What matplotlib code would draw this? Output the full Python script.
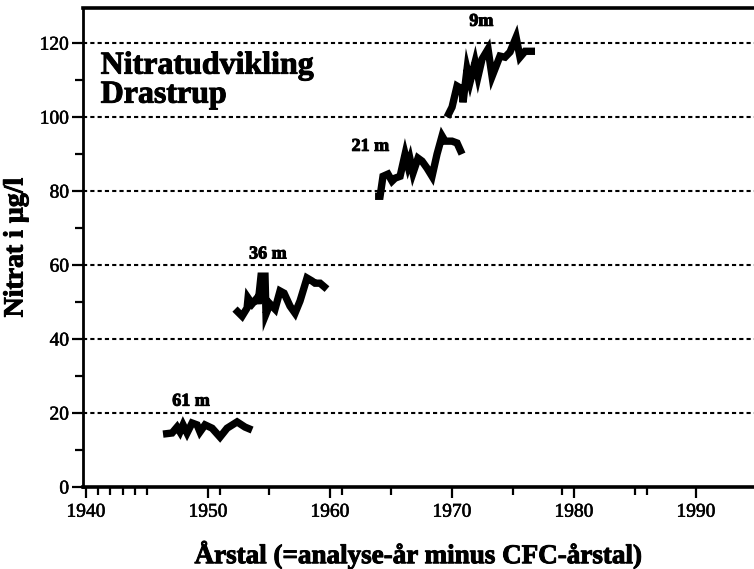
import matplotlib
matplotlib.use("Agg")
import matplotlib.pyplot as plt
import matplotlib.patheffects as pe
from matplotlib.ticker import FixedLocator

# Nitrate series by sampling depth (year vs. nitrate in µg/l)
years_61m = [1946.31, 1947.05, 1947.46, 1947.70, 1947.95, 1948.28, 1948.69, 1949.10,
             1949.34, 1949.75, 1950.33, 1950.98, 1951.56, 1952.38, 1953.03, 1953.61]
nitrate_61m = [14.3, 14.6, 16.2, 14.9, 16.8, 14.6, 17.3, 16.8,
               14.9, 16.8, 15.9, 13.5, 15.9, 17.6, 16.2, 15.4]

years_36m = [1952.21, 1952.79, 1953.20, 1953.28, 1953.61, 1954.02, 1954.10, 1954.34,
             1954.67, 1954.75, 1955.08, 1955.49, 1955.90, 1956.23, 1956.72, 1957.13,
             1957.54, 1958.11, 1958.52, 1958.77, 1959.18, 1959.75]
nitrate_36m = [48.1, 46.2, 48.4, 51.1, 49.5, 51.1, 49.5, 57.0,
               57.0, 46.8, 49.5, 48.1, 53.0, 52.4, 48.9, 47.0,
               50.3, 56.5, 55.7, 55.1, 55.1, 53.5]

years_21m = [1963.69, 1964.10, 1964.34, 1964.75, 1965.08, 1965.33, 1965.74, 1966.15,
             1966.39, 1966.56, 1966.80, 1967.21, 1967.54, 1967.95, 1968.36, 1968.77,
             1969.18, 1969.43, 1970.00, 1970.41, 1970.82]
nitrate_21m = [78.6, 78.6, 84.0, 84.6, 82.7, 83.5, 84.0, 90.0,
               86.8, 88.6, 84.9, 88.9, 88.1, 86.2, 84.0, 90.0,
               94.9, 93.5, 93.5, 93.0, 90.0]

years_9m = [1969.59, 1970.00, 1970.41, 1970.82, 1970.90, 1971.23, 1971.48, 1971.89,
            1972.13, 1972.46, 1972.95, 1973.28, 1973.93, 1974.34, 1974.75, 1975.25,
            1975.57, 1975.98, 1976.80]
nitrate_9m = [100.0, 102.7, 108.4, 107.6, 104.0, 113.0, 109.5, 114.9,
              111.0, 115.7, 118.4, 111.0, 116.5, 116.2, 117.6, 121.6,
              116.2, 117.8, 117.8]

series = [
    (years_61m, nitrate_61m, "61 m", (1948.6, 20.9)),
    (years_36m, nitrate_36m, "36 m", (1954.9, 60.7)),
    (years_21m, nitrate_21m, "21 m", (1963.3, 89.8)),
    (years_9m, nitrate_9m, "9m", (1972.4, 123.6)),
]

y_major = [0, 20, 40, 60, 80, 100, 120]
y_minor = [10, 30, 50, 70, 90, 110]
x_major = [1940, 1950, 1960, 1970, 1980, 1990]
x_minor = [1941, 1942, 1943, 1944, 1945, 1951, 1955, 1961, 1965, 1975,
           1979, 1985, 1986]

serif = ["Liberation Serif", "DejaVu Serif"]
heavy = [pe.withStroke(linewidth=0.7, foreground="black")]

fig = plt.figure(figsize=(7.54, 5.69), dpi=100)
ax = fig.add_axes([83 / 754, 1 - 487 / 569, 1 - 83 / 754, (487 - 8) / 569])

ax.set_xlim(1939.75, 1994.75)
ax.set_ylim(0, 129.5)

# dotted horizontal reference lines
for y in y_major[1:]:
    ax.axhline(y, color="black", lw=1.5, linestyle=(0, (2.0, 1.5)), zorder=1)

for xs, ys, label, (lx, ly) in series:
    ax.plot(xs, ys, color="black", lw=5.3, solid_joinstyle="miter",
            solid_capstyle="butt", zorder=3)
    ax.text(lx, ly, label, ha="center", va="bottom", fontsize=13,
            fontweight="bold", family=serif, path_effects=heavy)

ax.text(1941.2, 117.7, "Nitratudvikling\nDrastrup", ha="left", va="top",
        fontsize=23, fontweight="bold", family=serif, linespacing=1.0,
        path_effects=heavy)

ax.spines["right"].set_visible(False)
ax.spines["left"].set_linewidth(2.0)
ax.spines["bottom"].set_linewidth(2.6)
ax.spines["top"].set_linewidth(2.6)

ax.yaxis.set_major_locator(FixedLocator(y_major))
ax.yaxis.set_minor_locator(FixedLocator(y_minor))
ax.xaxis.set_major_locator(FixedLocator(x_major))
ax.xaxis.set_minor_locator(FixedLocator(x_minor))

ax.tick_params(axis="both", which="major", direction="out", length=8, width=1.6,
               labelsize=14, pad=2)
ax.tick_params(axis="both", which="minor", direction="out", length=6, width=1.6)
ax.tick_params(axis="x", which="major", pad=4)
for lab in ax.get_xticklabels() + ax.get_yticklabels():
    lab.set_family(serif)
    lab.set_path_effects([pe.withStroke(linewidth=0.4, foreground="black")])

ax.set_ylabel("Nitrat i µg/l", fontsize=20, fontweight="bold", family=serif,
              labelpad=8, path_effects=heavy)
ax.set_xlabel("Årstal (=analyse-år minus CFC-årstal)", fontsize=19.5,
              fontweight="bold", family=serif, labelpad=14, path_effects=heavy)

fig.savefig("out.png", dpi=100)
